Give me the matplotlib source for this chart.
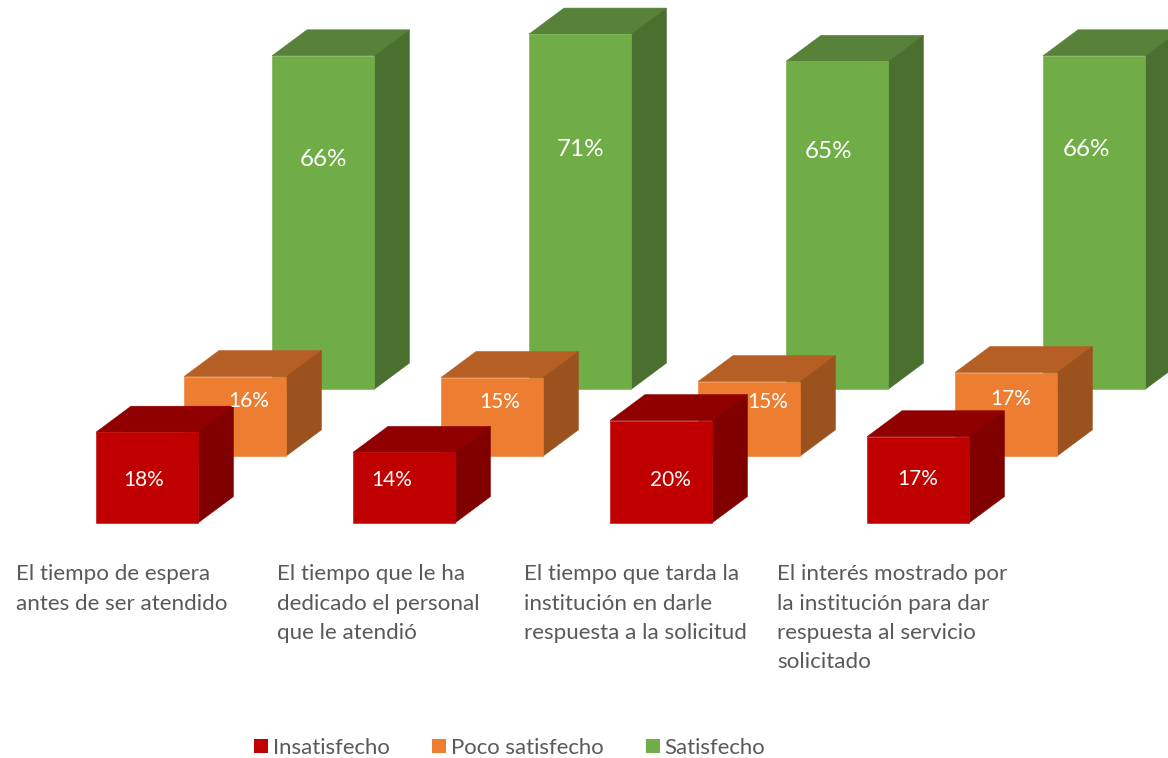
import matplotlib
matplotlib.use("Agg")
import matplotlib.pyplot as plt
from matplotlib.patches import Polygon, Rectangle

plt.rcParams['font.family'] = ['Lato', 'DejaVu Sans']

categories = [
    "El tiempo de espera\nantes de ser atendido",
    "El tiempo que le ha\ndedicado el personal\nque le atendió",
    "El tiempo que tarda la\ninstitución en darle\nrespuesta a la solicitud",
    "El interés mostrado por\nla institución para dar\nrespuesta al servicio\nsolicitado",
]
series_names = ["Insatisfecho", "Poco satisfecho", "Satisfecho"]
insatisfecho = [17.9, 13.9, 20.2, 17.0]
poco = [15.7, 15.5, 14.7, 16.5]
satisfecho = [66.0, 70.3, 64.9, 66.0]
labels_ins = ["18%", "14%", "20%", "17%"]
labels_poco = ["16%", "15%", "15%", "17%"]
labels_sat = ["66%", "71%", "65%", "66%"]

W, H = 1168, 758
fig = plt.figure(figsize=(W / 100, H / 100), dpi=100)
ax = fig.add_axes([0, 0, 1, 1])
ax.set_xlim(0, W)
ax.set_ylim(H, 0)
ax.axis("off")

SCALE = 5.05
BAR_W = 102.4
DX, DY = 35, -26
CAT_STEP = 257
X0 = 96
SER_DX = 88
BASE = 522.6
SER_DY = -66.75

front = ["#C00000", "#ED7D31", "#70AD47"]
top = ["#900000", "#B65F24", "#58823A"]
side = ["#800000", "#9B521E", "#4A7030"]
series = [insatisfecho, poco, satisfecho]
texts = [labels_ins, labels_poco, labels_sat]
label_x = [
    [144, 392, 670, 918],
    [249, 500, 768, 1011],
    [323.5, 580.5, 829, 1086],
]
label_y = [
    [480, 480, 480, 479],
    [401, 402, 402, 399],
    [159, 150, 151, 150],
]


def bar(x, base, h, s):
    t = base - h
    r = x + BAR_W
    ax.add_patch(Polygon([(x, t), (r, t), (r + DX, t + DY), (x + DX, t + DY)],
                         fc=top[s], ec=top[s], lw=0.4))
    ax.add_patch(Polygon([(r, t), (r + DX, t + DY), (r + DX, base + DY), (r, base)],
                         fc=side[s], ec=side[s], lw=0.4))
    ax.add_patch(Rectangle((x, t), BAR_W, h, fc=front[s], ec=front[s], lw=0.4))


for s in (2, 1, 0):
    for c in range(4):
        x = X0 + c * CAT_STEP + s * SER_DX
        base = BASE + s * SER_DY
        bar(x, base, series[s][c] * SCALE, s)

for s in (2, 1, 0):
    for c in range(4):
        ax.text(label_x[s][c], label_y[s][c], texts[s][c], color="white", ha="center",
                va="center", fontsize=17.5 if s == 2 else 15)

cat_x = [16, 277, 524, 777]
for x, t in zip(cat_x, categories):
    ax.text(x, 564.5, t, color="#595959", ha="left", va="top", fontsize=16.1, linespacing=1.57)

leg_x = [254, 432, 646]
leg_tx = [273, 451, 664]
for x, tx, n, col in zip(leg_x, leg_tx, series_names, front):
    ax.add_patch(Rectangle((x, 739), 14, 14, fc=col, ec="none"))
    ax.text(tx, 747.5, n, color="#595959", ha="left", va="center", fontsize=15.9)

fig.savefig("out.png", dpi=100)
